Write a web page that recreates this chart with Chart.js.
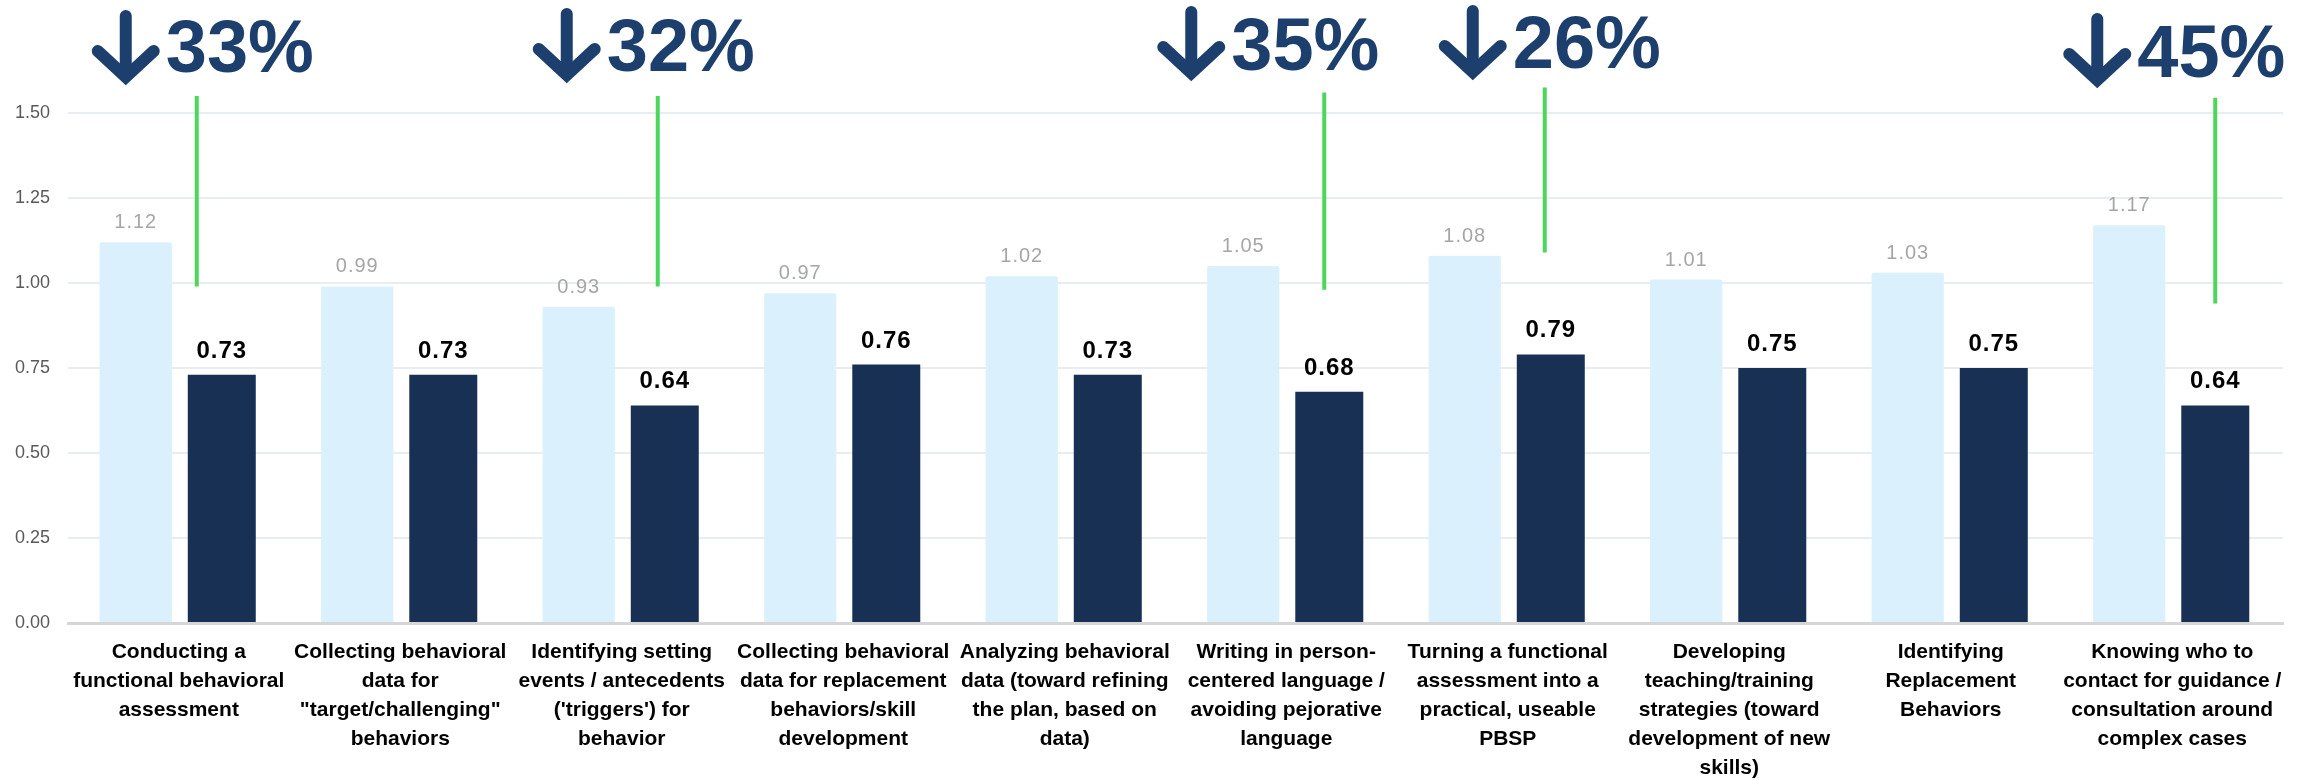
<!DOCTYPE html>
<html>
<head>
<meta charset="utf-8">
<script src="https://cdn.jsdelivr.net/npm/chart.js@4.4.1/dist/chart.umd.min.js"></script>
<style>
  body { margin: 0; background: #fff; }
  #wrap { width: 2308px; height: 780px; }
</style>
</head>
<body>
<div id="wrap"><canvas id="skillsChart" width="2308" height="780"></canvas></div>
<script>
let categories = [
  ["Conducting a", "functional behavioral", "assessment"],
  ["Collecting behavioral", "data for", "\"target/challenging\"", "behaviors"],
  ["Identifying setting", "events / antecedents", "('triggers') for", "behavior"],
  ["Collecting behavioral", "data for replacement", "behaviors/skill", "development"],
  ["Analyzing behavioral", "data (toward refining", "the plan, based on", "data)"],
  ["Writing in person-", "centered language /", "avoiding pejorative", "language"],
  ["Turning a functional", "assessment into a", "practical, useable", "PBSP"],
  ["Developing", "teaching/training", "strategies (toward", "development of new", "skills)"],
  ["Identifying", "Replacement", "Behaviors"],
  ["Knowing who to", "contact for guidance /", "consultation around", "complex cases"]
];
let beforeValues = [1.12, 0.99, 0.93, 0.97, 1.02, 1.05, 1.08, 1.01, 1.03, 1.17];
let afterValues = [0.73, 0.73, 0.64, 0.76, 0.73, 0.68, 0.79, 0.75, 0.75, 0.64];
let yTicks = [0, 0.25, 0.5, 0.75, 1.0, 1.25, 1.5];

// drop callouts: which category, the text, and where the green connector runs (in axis units)
let dropIndex = [0, 2, 5, 6, 9];
let dropText = ["33%", "32%", "35%", "26%", "45%"];
let dropLineTop = [1.55, 1.55, 1.56, 1.575, 1.545];
let dropLineBottom = [0.99, 0.99, 0.98, 1.09, 0.94];

// pixel layout of the callouts, relative to the category centre / canvas top
let calloutLayout = [
  { arrowDx: -53, lineDx: 18, top: 12, base: 72 },
  { arrowDx: -55, lineDx: 36, top: 10, base: 71 },
  { arrowDx: -95, lineDx: 38, top: 8, base: 70 },
  { arrowDx: -35, lineDx: 37, top: 7, base: 68 },
  { arrowDx: -75, lineDx: 43, top: 15, base: 77 }
];

let navy = "#1d3f6e";

let valueLabels = {
  id: "valueLabels",
  afterDatasetsDraw(chart) {
    let ctx = chart.ctx;
    ctx.save();
    ctx.textAlign = "center";
    ctx.textBaseline = "alphabetic";
    chart.data.datasets.forEach((ds, i) => {
      let meta = chart.getDatasetMeta(i);
      meta.data.forEach((bar, j) => {
        if (i == 0) {
          ctx.font = "20px 'Liberation Sans', Arial, sans-serif";
          ctx.letterSpacing = "1px";
          ctx.fillStyle = "#a6a6a6";
          ctx.fillText(ds.data[j].toFixed(2), bar.x, bar.y - 14);
        } else {
          ctx.font = "bold 24px 'Liberation Sans', Arial, sans-serif";
          ctx.letterSpacing = "1px";
          ctx.fillStyle = "#000000";
          ctx.fillText(ds.data[j].toFixed(2), bar.x, bar.y - 17);
        }
      });
    });
    ctx.restore();
  }
};

let dropCallouts = {
  id: "dropCallouts",
  afterDraw(chart) {
    let ctx = chart.ctx;
    let xs = chart.scales.x;
    let ys = chart.scales.y;
    ctx.save();
    for (let k = 0; k < dropIndex.length; k++) {
      let cx = xs.getPixelForValue(dropIndex[k]);
      let lay = calloutLayout[k];

      // green connector
      let lx = cx + lay.lineDx;
      ctx.strokeStyle = "#4cd65c";
      ctx.lineWidth = 4;
      ctx.lineCap = "butt";
      ctx.beginPath();
      ctx.moveTo(lx, ys.getPixelForValue(dropLineTop[k]));
      ctx.lineTo(lx, ys.getPixelForValue(dropLineBottom[k]));
      ctx.stroke();

      // down arrow
      let ax = cx + lay.arrowDx;
      let tip = lay.top + 69;
      ctx.strokeStyle = navy;
      ctx.lineWidth = 12;
      ctx.lineCap = "round";
      ctx.lineJoin = "miter";
      ctx.beginPath();
      ctx.moveTo(ax, lay.top + 4);
      ctx.lineTo(ax, tip - 6);
      ctx.stroke();
      ctx.beginPath();
      ctx.moveTo(ax - 28, tip - 30);
      ctx.lineTo(ax, tip - 4);
      ctx.lineTo(ax + 28, tip - 30);
      ctx.stroke();

      ctx.fillStyle = navy;
      ctx.font = "bold 74px 'Liberation Sans', Arial, sans-serif";
      ctx.textAlign = "left";
      ctx.textBaseline = "alphabetic";
      ctx.fillText(dropText[k], ax + 40, lay.base);
    }
    ctx.restore();
  }
};

let ctx = document.getElementById("skillsChart").getContext("2d");
let myChart = new Chart(ctx, {
  type: "bar",
  data: {
    labels: categories,
    datasets: [
      {
        label: "Before",
        data: beforeValues,
        backgroundColor: "#daf1fd",
        barPercentage: 0.84,
        borderRadius: 2,
        borderSkipped: "bottom"
      },
      {
        label: "After",
        data: afterValues,
        backgroundColor: "#173053",
        barPercentage: 0.79
      }
    ]
  },
  options: {
    responsive: false,
    animation: false,
    layout: { padding: { top: 113, right: 25, left: 0, bottom: 0 } },
    plugins: {
      legend: { display: false },
      tooltip: { enabled: false }
    },
    datasets: { bar: { categoryPercentage: 0.777 } },
    scales: {
      x: {
        grid: { display: false, drawTicks: false },
        border: { display: true, color: "#d6d6d6", width: 3 },
        ticks: {
          padding: 15,
          maxRotation: 0,
          autoSkip: false,
          color: "#000000",
          font: { family: "'Liberation Sans', Arial, sans-serif", size: 21, weight: "bold", lineHeight: 1.38 }
        },
        afterFit(scale) { scale.height = 157; }
      },
      y: {
        min: 0,
        max: 1.5,
        afterBuildTicks(scale) { scale.ticks = yTicks.map(v => ({ value: v })); },
        grid: {
          drawTicks: false,
          lineWidth: 2,
          color: c => (c.tick && c.tick.value == 0 ? "#d6d6d6" : "#e8edf2")
        },
        border: { display: false },
        ticks: {
          padding: 18,
          color: "#595959",
          font: { family: "'Liberation Sans', Arial, sans-serif", size: 18 },
          callback: v => Number(v).toFixed(2)
        },
        afterFit(scale) { scale.width = 68; }
      }
    }
  },
  plugins: [valueLabels, dropCallouts]
});
</script>
</body>
</html>
